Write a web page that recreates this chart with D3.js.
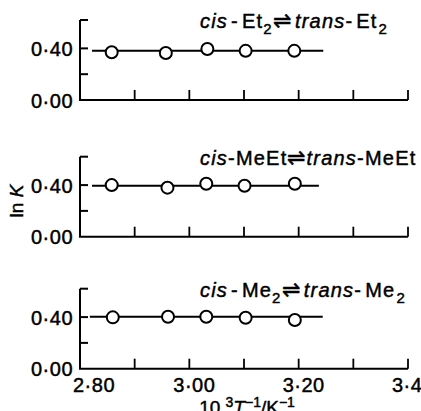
<!DOCTYPE html>
<html><head><meta charset="utf-8">
<script src="https://cdn.jsdelivr.net/npm/d3@7/dist/d3.min.js"></script>
<style>
body{margin:0;background:#fff;}
svg{display:block;}
text{font-family:"Liberation Sans",Arial,sans-serif;fill:#000;stroke:#000;stroke-width:0.45px;}
</style></head>
<body><svg id="c" width="421" height="411"></svg>
<script>
// ---- data ----
const xTickValues = [2.80, 2.90, 3.00, 3.10, 3.20, 3.30, 3.40];
const xTickLabels = ["2·80", "3·00", "3·20", "3·40"];
const xLabelValues = [2.80, 3.00, 3.20, 3.40];
const yTickValues = [0.00, 0.20, 0.40, 0.62];
const yTickLabels = ["0·00", "0·40"];
const yLabelValues = [0.00, 0.40];
const speciesNames = ["Et", "MeEt", "Me"];
const speciesSubs = ["2", "", "2"];
const xEt2 = [2.858, 2.957, 3.033, 3.103, 3.192];
const yEt2 = [0.370, 0.364, 0.395, 0.381, 0.381];
const xMeEt = [2.858, 2.960, 3.031, 3.101, 3.193];
const yMeEt = [0.400, 0.380, 0.410, 0.395, 0.410];
const xMe2 = [2.860, 2.961, 3.031, 3.103, 3.193];
const yMe2 = [0.398, 0.403, 0.403, 0.395, 0.378];
const fitX = [[2.822, 3.245], [2.822, 3.237], [2.818, 3.244]];
const fitY = [0.382, 0.395, 0.402];

const panels = [
  {name: speciesNames[0], sub: speciesSubs[0], xs: xEt2, ys: yEt2, fx: fitX[0], fy: fitY[0], y0: 100},
  {name: speciesNames[1], sub: speciesSubs[1], xs: xMeEt, ys: yMeEt, fx: fitX[1], fy: fitY[1], y0: 236.7},
  {name: speciesNames[2], sub: speciesSubs[2], xs: xMe2, ys: yMe2, fx: fitX[2], fy: fitY[2], y0: 368.7}
];

const svg = d3.select("#c");
const x = d3.scaleLinear().domain([2.80, 3.40]).range([80, 408]);

panels.forEach((p, i) => {
  const y = d3.scaleLinear().domain([0, 0.62]).range([p.y0, p.y0 - 80]);
  const g = svg.append("g");

  g.append("line").attr("x1", x(2.80) - 1).attr("x2", x(3.40))
    .attr("y1", y(0)).attr("y2", y(0)).attr("stroke", "#000").attr("stroke-width", 2);
  g.selectAll(".xt").data(xTickValues.slice(1)).enter().append("line")
    .attr("x1", d => x(d)).attr("x2", d => x(d))
    .attr("y1", y(0)).attr("y2", y(0) - 10)
    .attr("stroke", "#000").attr("stroke-width", 1.8);
  g.append("line").attr("x1", x(2.80)).attr("x2", x(2.80))
    .attr("y1", y(0)).attr("y2", y(0.62)).attr("stroke", "#000").attr("stroke-width", 2);
  g.selectAll(".yt").data(yTickValues.slice(1)).enter().append("line")
    .attr("x1", x(2.80)).attr("x2", x(2.80) + 8)
    .attr("y1", d => y(d)).attr("y2", d => y(d))
    .attr("stroke", "#000").attr("stroke-width", 2);
  g.selectAll(".yl").data(yLabelValues).enter().append("text")
    .attr("x", 73).attr("y", d => y(d) + 7.5)
    .attr("text-anchor", "end").attr("font-size", 20).attr("letter-spacing", 0.5)
    .text((d, j) => yTickLabels[j]);

  g.append("line").attr("x1", x(p.fx[0])).attr("x2", x(p.fx[1]))
    .attr("y1", y(p.fy)).attr("y2", y(p.fy))
    .attr("stroke", "#000").attr("stroke-width", 2);
  g.selectAll("circle").data(p.xs).enter().append("circle")
    .attr("cx", d => x(d)).attr("cy", (d, j) => y(p.ys[j]))
    .attr("r", 6).attr("fill", "#fff").attr("stroke", "#000").attr("stroke-width", 2);

  const gap = p.sub ? 3 : 0;
  const t = g.append("text").attr("x", 200).attr("y", p.y0 - 72)
    .attr("font-size", 20).attr("letter-spacing", 1.2);
  t.append("tspan").attr("font-style", "italic").text("cis");
  t.append("tspan").attr("dx", gap).text("-");
  t.append("tspan").attr("dx", gap).text(p.name);
  if (p.sub) {
    t.append("tspan").attr("dy", 6).attr("font-size", 15).text(p.sub);
    t.append("tspan").attr("dy", -6).attr("font-size", 22).text("⇌");
  } else {
    t.append("tspan").attr("font-size", 22).text("⇌");
  }
  t.append("tspan").attr("dx", gap).attr("font-style", "italic").text("trans");
  t.append("tspan").text("-");
  t.append("tspan").attr("dx", gap).text(p.name);
  if (p.sub) t.append("tspan").attr("dy", 6).attr("dx", 1).attr("font-size", 15).text(p.sub);

  if (i === 2) {
    g.selectAll(".xl").data(xLabelValues).enter().append("text")
      .attr("x", (d, j) => j === 0 ? x(d) - 7 : x(d) + 5)
      .attr("y", y(0) + 23)
      .attr("text-anchor", (d, j) => j === 0 ? "start" : "middle")
      .attr("font-size", 20).attr("letter-spacing", 0.5)
      .text((d, j) => xTickLabels[j]);
  }
});

const yl = svg.append("text").attr("transform", "translate(23,201) rotate(-90)")
  .attr("text-anchor", "middle").attr("font-size", 19);
yl.append("tspan").text("ln ");
yl.append("tspan").attr("font-style", "italic").text("K");

const xl = svg.append("text").attr("x", 247).attr("y", 414)
  .attr("text-anchor", "middle").attr("font-size", 19);
xl.append("tspan").text("10 ");
xl.append("tspan").attr("dy", -7).attr("font-size", 14).text("3");
xl.append("tspan").attr("dy", 7).attr("font-style", "italic").text("T");
xl.append("tspan").attr("dy", -7).attr("font-size", 14).text("−1");
xl.append("tspan").attr("dy", 7).text("/K");
xl.append("tspan").attr("dy", -7).attr("font-size", 14).text("−1");
</script></body></html>
